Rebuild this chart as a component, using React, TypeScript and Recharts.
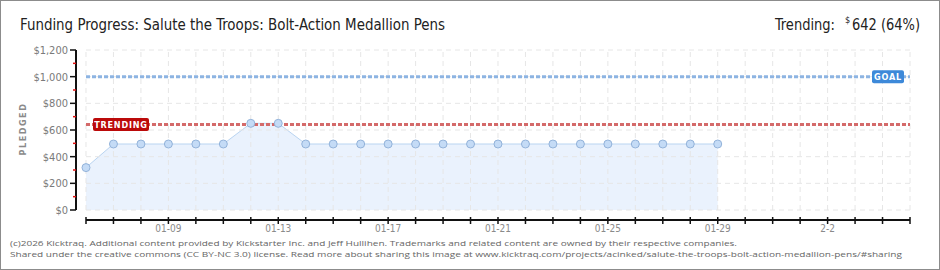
import React from 'react';
import { ComposedChart, Area, XAxis, YAxis, ReferenceLine } from 'recharts';

// axis days (one tick per day), the labelled ones, and the pledged totals per day
const dayLabels = [
  '01-06', '01-07', '01-08', '01-09', '01-10', '01-11', '01-12', '01-13', '01-14', '01-15', '01-16',
  '01-17', '01-18', '01-19', '01-20', '01-21', '01-22', '01-23', '01-24', '01-25', '01-26', '01-27',
  '01-28', '01-29', '01-30', '01-31', '2-1', '2-2', '2-3', '2-4', '2-5',
];
const shownLabels = ['01-09', '01-13', '01-17', '01-21', '01-25', '01-29', '2-2'];
const pledged = [
  318, 495, 495, 495, 495, 495, 650, 650, 495, 495, 495, 495,
  495, 495, 495, 495, 495, 495, 495, 495, 495, 495, 495, 495,
];
const yTicks = [0, 100, 200, 300, 400, 500, 600, 700, 800, 900, 1000, 1100, 1200];
const yGrid = [0, 200, 400, 600, 800, 1000, 1200];
const goal = 1000;
const trending = 642;

const data = pledged.map((v, i) => ({ day: i, pledged: v }));
const days = dayLabels.map((_, i) => i);
const lastDay = days[days.length - 1];

const narrow = '"DejaVu Sans Condensed", "Liberation Sans Narrow", sans-serif';

const YTick = (props: any) => {
  const { x, y, payload } = props;
  const v = payload.value;
  if (v % 200 !== 0) {
    return <line x1={x + 5} x2={x + 8} y1={y} y2={y} stroke="#e01010" strokeWidth={1.5} />;
  }
  return (
    <g>
      <line x1={x + 2} x2={x + 8} y1={y} y2={y} stroke="#111" strokeWidth={1.5} />
      <text x={x} y={y} dy={4} textAnchor="end" fontSize={11} fill="#7a7a7a" fontFamily={narrow}>
        {'$' + v.toLocaleString('en-US')}
      </text>
    </g>
  );
};

const XTick = (props: any) => {
  const { x, y, payload } = props;
  const label = dayLabels[payload.value];
  return (
    <g>
      <line x1={x} x2={x} y1={y - 7} y2={y} stroke="#111" strokeWidth={1.5} />
      {shownLabels.includes(label) && (
        <text x={x} y={y + 8} textAnchor="middle" fontSize={10} fill="#8a8a8a" fontFamily={narrow}>
          {label}
        </text>
      )}
    </g>
  );
};

const lineLabel = (text: string, bg: string, w: number, side: 'left' | 'right') => (props: any) => {
  const vb = props.viewBox;
  const bx = side === 'left' ? vb.x + 7 : vb.x + vb.width - 6 - w;
  return (
    <g>
      <rect x={bx} y={vb.y - 6.5} width={w} height={13} rx={2} fill={bg} />
      <text x={bx + w / 2} y={vb.y + 3.5} textAnchor="middle" fontSize={9} fontWeight="bold"
        fill="#fff" letterSpacing={0.8} fontFamily={narrow}>{text}</text>
    </g>
  );
};

export default function App() {
  return (
    <div style={{ position: 'absolute', left: 0, top: 0, width: 940, height: 270, background: '#fff' }}>
      <ComposedChart width={940} height={270} data={data} margin={{ top: 50, right: 30, bottom: 0, left: 0 }}>
        <XAxis dataKey="day" type="number" domain={[-0.364, lastDay]} ticks={days} interval={0}
          height={50} tickSize={4} tickMargin={0} axisLine={false} tickLine={false} tick={<XTick />} />
        <YAxis type="number" domain={[-75, 1200]} ticks={yTicks} interval={0} width={76}
          tickSize={6} tickMargin={2} axisLine={false} tickLine={false} tick={<YTick />} />

        {days.map((d) => (
          <ReferenceLine key={'v' + d} segment={[{ x: d, y: 0 }, { x: d, y: 1200 }]}
            stroke="#e6e6e6" strokeDasharray="5 4" ifOverflow="visible" />
        ))}
        {yGrid.map((v) => (
          <ReferenceLine key={'h' + v} segment={[{ x: 0, y: v }, { x: lastDay, y: v }]}
            stroke="#e6e6e6" strokeDasharray="5 4" ifOverflow="visible" />
        ))}

        <ReferenceLine segment={[{ x: 0, y: -75 }, { x: lastDay, y: -75 }]} stroke="#111" strokeWidth={2} ifOverflow="visible" />
        <ReferenceLine segment={[{ x: -0.364, y: 0 }, { x: -0.364, y: 1200 }]} stroke="#111" strokeWidth={2} ifOverflow="visible" />

        <Area type="linear" dataKey="pledged" baseValue={0} stroke="#b9d4f1" strokeWidth={1}
          fill="#d9e8fb" fillOpacity={0.55} isAnimationActive={false}
          dot={{ r: 4, fill: '#c4dbf6', stroke: '#93b3da', strokeWidth: 1, fillOpacity: 1 }} />

        <ReferenceLine segment={[{ x: 0, y: goal }, { x: lastDay, y: goal }]} stroke="#8db4e2"
          strokeWidth={3} strokeDasharray="4 2" ifOverflow="visible"
          label={{ content: lineLabel('GOAL', '#3d89d9', 32, 'right') }} />
        <ReferenceLine segment={[{ x: 0, y: trending }, { x: lastDay, y: trending }]} stroke="#d46a6a"
          strokeWidth={3} strokeDasharray="4 2" ifOverflow="visible"
          label={{ content: lineLabel('TRENDING', '#bb0a0a', 56, 'left') }} />
      </ComposedChart>

      <svg width={940} height={270} style={{ position: 'absolute', left: 0, top: 0, pointerEvents: 'none' }}>
        <rect x={0.5} y={0.5} width={939} height={269} fill="none" stroke="#8c8c8c" />
        <text x={20} y={30} fontSize={16} fill="#222" fontFamily={narrow} textLength={425}
          lengthAdjust="spacingAndGlyphs">Funding Progress: Salute the Troops: Bolt-Action Medallion Pens</text>
        <text x={775} y={30} fontSize={16} fill="#222" fontFamily={narrow} textLength={60}
          lengthAdjust="spacingAndGlyphs">Trending:</text>
        <text x={845} y={23} fontSize={9} fill="#222" fontFamily={narrow}>$</text>
        <text x={852} y={30} fontSize={16} fill="#222" fontFamily={narrow} textLength={68}
          lengthAdjust="spacingAndGlyphs">642 (64%)</text>
        <text transform="translate(26,129) rotate(-90)" textAnchor="middle" fontSize={9} fontWeight="bold"
          fill="#8a8a8a" letterSpacing={1.5} fontFamily={narrow}>PLEDGED</text>
        <text x={10} y={245.5} fontSize={8} fill="#666" fontFamily='"Open Sans", sans-serif' textLength={727}
          lengthAdjust="spacingAndGlyphs">(c)2026 Kicktraq. Additional content provided by Kickstarter Inc. and Jeff Hullihen. Trademarks and related content are owned by their respective companies.</text>
        <text x={10} y={257} fontSize={8} fill="#666" fontFamily='"Open Sans", sans-serif' textLength={892}
          lengthAdjust="spacingAndGlyphs">Shared under the creative commons (CC BY-NC 3.0) license. Read more about sharing this image at www.kicktraq.com/projects/acinked/salute-the-troops-bolt-action-medallion-pens/#sharing</text>
      </svg>
    </div>
  );
}
